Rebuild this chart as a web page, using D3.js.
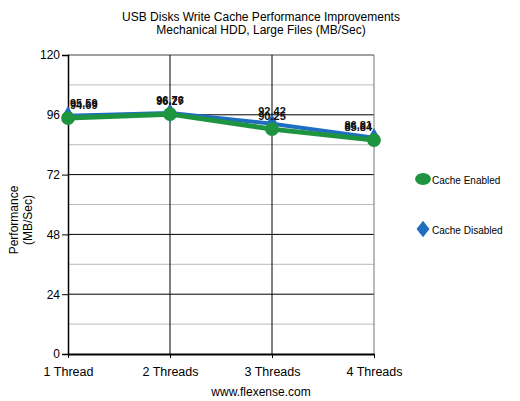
<!DOCTYPE html>
<html>
<head>
<meta charset="utf-8">
<script src="https://cdn.jsdelivr.net/npm/d3@7"></script>
<style>
  body { margin: 0; background: #fff; }
  text { font-family: Arial, "Liberation Sans", sans-serif; }
</style>
</head>
<body>
<div id="chart"></div>
<script>
// data
const categories = ["1 Thread", "2 Threads", "3 Threads", "4 Threads"];
const cacheEnabled = [94.69, 96.27, 90.25, 85.84];
const cacheDisabled = [95.59, 96.76, 92.42, 86.81];
const yTicks = [0, 24, 48, 72, 96, 120];
const yMinor = [12, 36, 60, 84, 108];

const width = 520, height = 401;
const plot = {left: 68, right: 374, top: 55, bottom: 354};

let svg = d3.select("#chart")
    .append("svg")
    .attr("width", width)
    .attr("height", height);

let x = d3.scalePoint()
    .domain(categories)
    .range([plot.left, plot.right]);

let y = d3.scaleLinear()
    .domain([0, 120])
    .range([plot.bottom, plot.top]);

// minor gridlines
svg.append("g")
    .selectAll("line")
    .data(yMinor)
    .enter()
    .append("line")
    .attr("x1", plot.left).attr("x2", plot.right)
    .attr("y1", d => y(d)).attr("y2", d => y(d))
    .style("stroke", "#bbb")
    .style("stroke-width", 1);

// major gridlines
svg.append("g")
    .selectAll("line")
    .data(yTicks.filter(d => d > 0 && d < 120))
    .enter()
    .append("line")
    .attr("x1", plot.left).attr("x2", plot.right)
    .attr("y1", d => y(d)).attr("y2", d => y(d))
    .style("stroke", "#000")
    .style("stroke-width", 1);

// top line
svg.append("line")
    .attr("x1", plot.left).attr("x2", plot.right)
    .attr("y1", y(120)).attr("y2", y(120))
    .style("stroke", "#444");

// vertical category lines
svg.append("g")
    .selectAll("line")
    .data(categories.slice(1, 3))
    .enter()
    .append("line")
    .attr("x1", d => x(d)).attr("x2", d => x(d))
    .attr("y1", plot.top).attr("y2", plot.bottom)
    .style("stroke", "#000");

// right border
svg.append("line")
    .attr("x1", plot.right).attr("x2", plot.right)
    .attr("y1", plot.top).attr("y2", plot.bottom)
    .style("stroke", "#777");

// y axis
let yAxis = svg.append("g")
    .attr("transform", `translate(${plot.left}, 0)`)
    .call(d3.axisLeft(y).tickValues(yTicks).tickSize(6).tickPadding(2));
yAxis.select(".domain").attr("stroke", "#000").attr("stroke-width", 1.5);
yAxis.selectAll("text").style("font-size", "12px").style("font-family", "Arial, 'Liberation Sans', sans-serif").attr("fill", "#000");

// x axis
let xAxis = svg.append("g")
    .attr("transform", `translate(0, ${plot.bottom})`)
    .call(d3.axisBottom(x).tickSize(4).tickPadding(9).tickSizeOuter(0));
xAxis.select(".domain").attr("stroke", "#000").attr("stroke-width", 2);
xAxis.selectAll("text").style("font-size", "12.5px").style("font-family", "Arial, 'Liberation Sans', sans-serif").attr("fill", "#000");

// titles
svg.append("text")
    .attr("x", 261).attr("y", 21)
    .style("text-anchor", "middle")
    .style("font-size", "12px")
    .text("USB Disks Write Cache Performance Improvements");
svg.append("text")
    .attr("x", 261).attr("y", 34)
    .style("text-anchor", "middle")
    .style("font-size", "12px")
    .text("Mechanical HDD, Large Files (MB/Sec)");

svg.append("text")
    .attr("x", 261).attr("y", 396)
    .style("text-anchor", "middle")
    .style("font-size", "12px")
    .text("www.flexense.com");

// y axis title
let yTitle = svg.append("text")
    .attr("transform", "translate(18, 220) rotate(-90)")
    .style("text-anchor", "middle")
    .style("font-size", "12px");
yTitle.append("tspan").attr("x", 0).attr("dy", 0).text("Performance");
yTitle.append("tspan").attr("x", 0).attr("dy", 14).text("(MB/Sec)");

// series
let series = [
    {name: "Cache Disabled", values: cacheDisabled, color: "#1f6fc0", width: 4, shape: d3.symbolDiamond, size: 110},
    {name: "Cache Enabled", values: cacheEnabled, color: "#1e9440", width: 5, shape: d3.symbolCircle, size: 150}
];

let line = d3.line()
    .x((d, i) => x(categories[i]))
    .y(d => y(d));

series.forEach(function(s) {
    svg.append("path")
        .datum(s.values)
        .attr("d", line)
        .style("fill", "none")
        .style("stroke", s.color)
        .style("stroke-width", s.width)
        .style("stroke-linejoin", "round");

    svg.append("g")
        .selectAll("path")
        .data(s.values)
        .enter()
        .append("path")
        .attr("d", d3.symbol().type(s.shape).size(s.size))
        .attr("transform", (d, i) => `translate(${x(categories[i])}, ${y(d)})`)
        .style("fill", s.color);
});

// value labels, kept inside the plot area
series.forEach(function(s) {
    s.values.forEach(function(v, i) {
        let t = svg.append("text")
            .attr("y", y(v) - 9)
            .style("font-size", "11px")
            .style("font-weight", "bold")
            .attr("fill", "#111")
            .text(v.toFixed(2));
        let w = t.node().getComputedTextLength();
        let cx = x(categories[i]) - w / 2;
        cx = Math.max(plot.left + 2, Math.min(plot.right - 2 - w, cx));
        t.attr("x", cx);
    });
});

// legend
let legend = [
    {name: "Cache Enabled", color: "#1e9440", shape: d3.symbolCircle, size: 150, y: 179},
    {name: "Cache Disabled", color: "#1f6fc0", shape: d3.symbolDiamond, size: 110, y: 229}
];
legend.forEach(function(l) {
    svg.append("path")
        .attr("d", d3.symbol().type(l.shape).size(l.size))
        .attr("transform", `translate(423, ${l.y}) scale(1.15, 0.85)`)
        .style("fill", l.color);
    svg.append("text")
        .attr("x", 432).attr("y", l.y + 5)
        .style("font-size", "10px")
        .text(l.name);
});
</script>
</body>
</html>
